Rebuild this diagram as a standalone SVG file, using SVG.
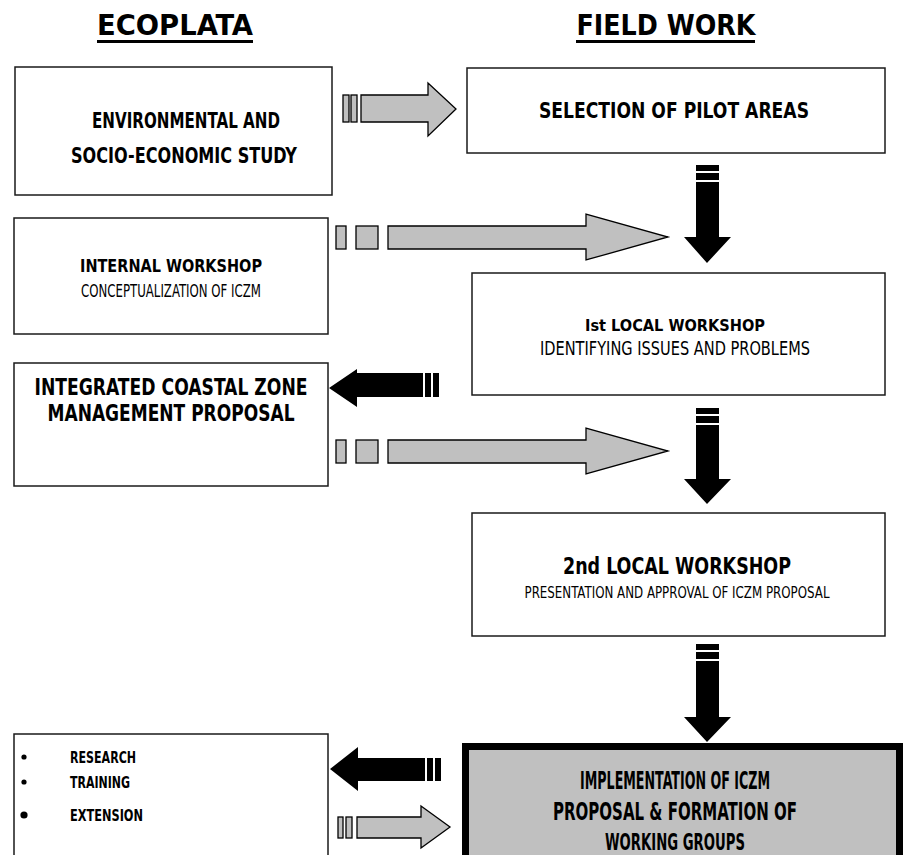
<svg xmlns="http://www.w3.org/2000/svg" width="904" height="855" viewBox="0 0 904 855">
<style>
text{font-family:"Liberation Sans Narrow","DejaVu Sans Condensed","Liberation Sans",sans-serif;fill:#000;text-anchor:middle}
.b{font-weight:bold}
.s{text-anchor:start}
.box{fill:#fff;stroke:#1a1a1a;stroke-width:1.5}
.g{fill:#c0c0c0;stroke:#000;stroke-width:1.3}
.k{fill:#000;stroke:none}
</style>
<rect width="904" height="855" fill="#fff"/>
<g id="title-ecoplata">
<text class="b" x="175" y="35" font-size="28" textLength="156" lengthAdjust="spacingAndGlyphs">ECOPLATA</text>
<rect x="97" y="40" width="156" height="3" fill="#000"/>
</g>
<g id="title-fieldwork">
<text class="b" x="666" y="35" font-size="28" textLength="179" lengthAdjust="spacingAndGlyphs">FIELD WORK</text>
<rect x="576" y="40" width="179" height="3" fill="#000"/>
</g>
<g id="env-study">
<rect class="box" x="15" y="67" width="317" height="128"/>
<text class="b" x="186" y="128" font-size="22" textLength="188" lengthAdjust="spacingAndGlyphs">ENVIRONMENTAL AND</text>
<text class="b" x="184" y="163" font-size="22" textLength="226" lengthAdjust="spacingAndGlyphs">SOCIO-ECONOMIC STUDY</text>
</g>
<g id="pilot-areas">
<rect class="box" x="467" y="68" width="418" height="85"/>
<text class="b" x="674" y="118" font-size="21" textLength="270" lengthAdjust="spacingAndGlyphs">SELECTION OF PILOT AREAS</text>
</g>
<g id="internal-workshop">
<rect class="box" x="14" y="218" width="314" height="116"/>
<text class="b" x="171" y="272" font-size="17" textLength="182" lengthAdjust="spacingAndGlyphs">INTERNAL WORKSHOP</text>
<text x="171" y="297" font-size="17" textLength="180" lengthAdjust="spacingAndGlyphs">CONCEPTUALIZATION OF ICZM</text>
</g>
<g id="local-workshop-1">
<rect class="box" x="472" y="273" width="413" height="122"/>
<text class="b" x="675" y="331" font-size="16" textLength="180" lengthAdjust="spacingAndGlyphs">Ist LOCAL WORKSHOP</text>
<text x="675" y="355" font-size="20" textLength="270" lengthAdjust="spacingAndGlyphs">IDENTIFYING ISSUES AND PROBLEMS</text>
</g>
<g id="iczm-proposal">
<rect class="box" x="14" y="363" width="314" height="123"/>
<text class="b" x="171" y="395" font-size="23" textLength="273" lengthAdjust="spacingAndGlyphs">INTEGRATED COASTAL ZONE</text>
<text class="b" x="171" y="421" font-size="23" textLength="247" lengthAdjust="spacingAndGlyphs">MANAGEMENT PROPOSAL</text>
</g>
<g id="local-workshop-2">
<rect class="box" x="472" y="513" width="413" height="123"/>
<text class="b" x="677" y="574" font-size="23" textLength="228" lengthAdjust="spacingAndGlyphs">2nd LOCAL WORKSHOP</text>
<text x="677" y="598" font-size="15" textLength="305" lengthAdjust="spacingAndGlyphs">PRESENTATION AND APPROVAL OF ICZM PROPOSAL</text>
</g>
<g id="activities">
<rect class="box" x="14" y="734" width="314" height="130"/>
<circle cx="24" cy="757" r="2.6" fill="#000"/>
<circle cx="24" cy="782" r="2.6" fill="#000"/>
<circle cx="24" cy="815" r="3.6" fill="#000"/>
<text class="b s" x="70" y="763" font-size="16" textLength="66" lengthAdjust="spacingAndGlyphs">RESEARCH</text>
<text class="b s" x="70" y="788" font-size="16" textLength="60" lengthAdjust="spacingAndGlyphs">TRAINING</text>
<text class="b s" x="70" y="821" font-size="16" textLength="73" lengthAdjust="spacingAndGlyphs">EXTENSION</text>
</g>
<g id="implementation">
<rect x="465.5" y="746.5" width="434" height="120" fill="#c0c0c0" stroke="#000" stroke-width="7"/>
<text class="b" x="675" y="789" font-size="24" textLength="190" lengthAdjust="spacingAndGlyphs">IMPLEMENTATION OF ICZM</text>
<text class="b" x="675" y="820" font-size="24" textLength="244" lengthAdjust="spacingAndGlyphs">PROPOSAL &amp; FORMATION OF</text>
<text class="b" x="675" y="850" font-size="23" textLength="140" lengthAdjust="spacingAndGlyphs">WORKING GROUPS</text>
</g>
<g id="connectors">
<rect class="g" x="343" y="95" width="6" height="27"/>
<rect class="g" x="351" y="95" width="6" height="27"/>
<path class="g" d="M361,95 H428 V83 L456,109 L428,136 V122 H361 Z"/>
<rect class="g" x="336" y="226" width="10" height="23"/>
<rect class="g" x="356" y="226" width="22" height="23"/>
<path class="g" d="M388,226 H586 V214 L668,237 L586,260 V249 H388 Z"/>
<rect class="g" x="336" y="440" width="10" height="23"/>
<rect class="g" x="356" y="440" width="22" height="23"/>
<path class="g" d="M388,440 H586 V428 L668,451 L586,474 V463 H388 Z"/>
<path class="k" d="M329,388 L357,369 V373 H423 V397 H357 V407 Z"/>
<rect class="k" x="425" y="373" width="6" height="24"/>
<rect class="k" x="433" y="373" width="6" height="24"/>
<path class="k" d="M330,769 L358,747 V758 H425 V781 H358 V791 Z"/>
<rect class="k" x="427" y="758" width="6" height="23"/>
<rect class="k" x="435" y="758" width="6" height="23"/>
<rect class="g" x="338" y="817" width="5" height="21"/>
<rect class="g" x="346" y="817" width="6" height="21"/>
<path class="g" d="M357,817 H421 V806 L450,827 L421,848 V838 H357 Z"/>
<rect class="k" x="696" y="165" width="23" height="6"/>
<rect class="k" x="696" y="173" width="23" height="7"/>
<path class="k" d="M696,182 H719 V237 H731 L707,263 L684,237 H696 Z"/>
<rect class="k" x="696" y="408" width="23" height="6"/>
<rect class="k" x="696" y="416" width="23" height="7"/>
<path class="k" d="M696,425 H719 V479 H731 L707,504 L684,479 H696 Z"/>
<rect class="k" x="696" y="644" width="23" height="6"/>
<rect class="k" x="696" y="652" width="23" height="7"/>
<path class="k" d="M696,661 H719 V717 H731 L707,742 L684,717 H696 Z"/>
</g>
</svg>
